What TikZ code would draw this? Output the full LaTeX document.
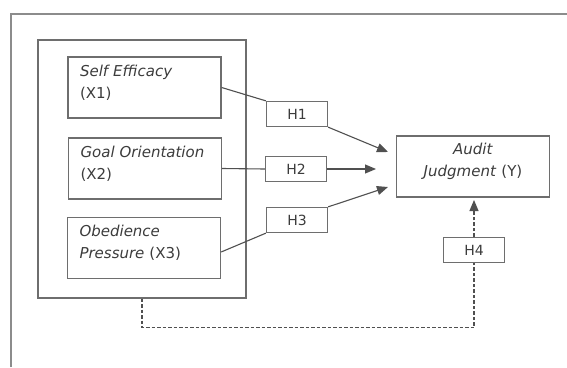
\documentclass[tikz,border=0pt]{standalone}
\usepackage{fontspec}
\setmainfont{DejaVu Sans}
\usetikzlibrary{arrows.meta,positioning,calc}
\definecolor{linecolor}{RGB}{80,80,80}
\definecolor{boxcolor}{RGB}{110,110,110}
\definecolor{framecolor}{RGB}{140,140,140}
\definecolor{textcolor}{RGB}{60,60,60}
\newcommand{\lowgap}{\par\vspace*{10pt}}

\tikzset{
  varbox/.style={draw=boxcolor, line width=1.3pt, minimum width=153pt,
    minimum height=61pt, text width=129pt, inner xsep=12pt, inner ysep=0pt,
    align=left, font=\fontsize{15}{22}\selectfont, text=textcolor},
  aimbox/.style={varbox, align=center},
  hypbox/.style={draw=boxcolor, line width=1.3pt, minimum width=61pt,
    minimum height=25pt, inner sep=0pt, font=\fontsize{14}{16}\selectfont,
    text=textcolor},
  groupbox/.style={draw=boxcolor, line width=1.3pt, minimum width=208pt,
    minimum height=258pt, inner sep=0pt},
  link/.style={draw=linecolor, line width=1.1pt},
  tip/.style={-{Triangle[length=11pt,width=9pt]}},
  effect/.style={link, tip},
  dotlink/.style={link, dash pattern=on 3.5pt off 2pt}
}

\begin{document}
\begin{tikzpicture}[x=1pt, y=-1pt]
\useasboundingbox (0,0) rectangle (567,367);

% ================= FRAME =================
\draw[framecolor, line width=2pt] (11,367) -- (11,14) -- (567,14);

% ================= LEFT: VARIABLES =================
\node[groupbox] (grp) at (142,169) {};

\node[varbox] (x1) at (144.5,87.5)
{\textit{Self Efficacy}\\(X1)\lowgap};
\node[varbox] (x2) at (145,168.5)
{\textit{Goal Orientation}\\(X2)\lowgap};
\node[varbox] (x3) at (144,248)
{\textit{Obedience}\\\textit{Pressure} (X3)\lowgap};

% ================= MIDDLE: HYPOTHESES =================
\node[hypbox] (h1) at (297,114) {H1};
\node[hypbox] (h2) at (296,169) {H2};
\node[hypbox] (h3) at (297,220) {H3};

% ================= RIGHT: OUTCOME =================
\node[aimbox] (aj) at (473,166.5) {\textit{Audit}\\\textit{Judgment} (Y)\lowgap};
\node[hypbox] (h4) at (474,250) {H4};

% arrow ends (tips stop short of the box)
\coordinate (t1) at (388,152);
\coordinate (t2) at (376,169);
\coordinate (t3) at (388,187);
\coordinate (t4) at (474,200);

% --- paths through H1..H3 ---
\draw[link] (x1.east) -- (h1.north west);
\draw[effect] (h1.south east) -- (t1);

\draw[link] (x2.east) -- (h2.west);
\draw[effect] (h2.east) -- (t2);

\draw[link] ([yshift=-4pt]x3.east) -- (h3.south west);
\draw[effect] (h3.north east) -- (t3);

% --- joint effect (H4) ---
\draw[dotlink] (grp.south) -- ++(0,29) -| (h4.south);
\draw[dotlink, tip] (h4.north) -- (t4);

\end{tikzpicture}
\end{document}
